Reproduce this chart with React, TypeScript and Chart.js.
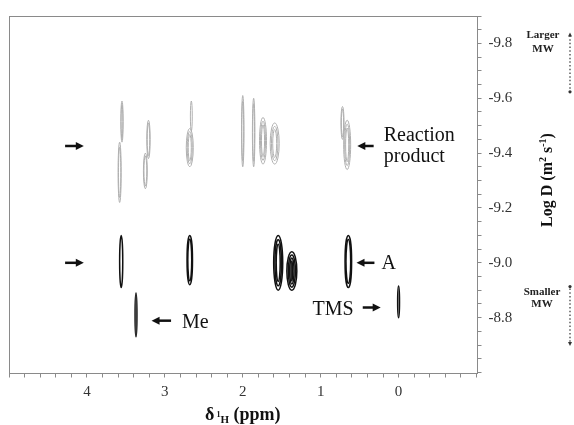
import { useEffect, useRef } from 'react';
import { Chart, registerables } from 'chart.js';

Chart.register(...registerables);

// ---- Data (ppm = chemical shift, logD = log diffusion coefficient) ----
// Reaction product peaks (grey contours)
const productPpm = [3.55, 3.58, 3.21, 3.25, 2.68, 2.66, 2.0, 1.86, 1.74, 1.59, 0.72, 0.66];
const productTop = [-9.59, -9.44, -9.52, -9.4, -9.49, -9.59, -9.61, -9.6, -9.53, -9.51, -9.57, -9.52];
const productBottom = [-9.44, -9.22, -9.38, -9.27, -9.35, -9.48, -9.35, -9.35, -9.36, -9.36, -9.45, -9.34];
const productHalfWidth = [0.015, 0.02, 0.022, 0.025, 0.045, 0.012, 0.016, 0.016, 0.045, 0.058, 0.02, 0.045];
const productLevels = [2, 2, 2, 2, 3, 1, 2, 2, 3, 3, 2, 3];

// Compound A peaks (black contours)
const aPpm = [3.56, 2.68, 1.545, 1.37, 0.645];
const aTop = [-9.1, -9.1, -9.1, -9.04, -9.1];
const aBottom = [-8.91, -8.92, -8.9, -8.9, -8.91];
const aHalfWidth = [0.02, 0.035, 0.058, 0.064, 0.042];
const aLevels = [1, 2, 3, 4, 2];

// Me peak
const mePpm = [3.37];
const meTop = [-8.89];
const meBottom = [-8.73];
const meHalfWidth = [0.012];
const meLevels = [1];

// TMS peak
const tmsPpm = [0.0];
const tmsTop = [-8.915];
const tmsBottom = [-8.8];
const tmsHalfWidth = [0.012];
const tmsLevels = [1];

// Axis ranges / tick labels
const xMin = -1;
const xMax = 5;
const xStep = 0.2;
const xLabels = [4, 3, 2, 1, 0];
const yMin = -9.9;
const yMax = -8.6;
const yStep = 0.05;
const yLabels = [-9.8, -9.6, -9.4, -9.2, -9.0, -8.8];

// Annotation arrows: tail ppm, head ppm, logD
const arrowTail = [4.28, 4.28, 0.32, 0.31, 0.46, 2.92];
const arrowHead = [4.04, 4.04, 0.53, 0.54, 0.23, 3.17];
const arrowLogD = [-9.426, -9.0, -9.426, -9.0, -8.837, -8.789];

// Annotation texts: text, ppm anchor, logD baseline, align
const noteText = ['Reaction', 'product', 'A', 'TMS', 'Me'];
const notePpm = [0.19, 0.19, 0.22, 0.577, 2.78];
const noteLogD = [-9.445, -9.368, -8.976, -8.811, -8.763];
const noteAlign = ['left', 'left', 'left', 'right', 'left'];

const SERIF = '"Liberation Serif", "Times New Roman", serif';

function build(ppm: number[], top: number[], bottom: number[], hw: number[], lv: number[]) {
  return ppm.map((p, i) => ({ x: p, y: (top[i] + bottom[i]) / 2, top: top[i], bottom: bottom[i], hw: hw[i], levels: lv[i] }));
}

function near(v: number, list: number[]) {
  return list.some((t) => Math.abs(v - t) < 1e-6);
}

const drawPlugin = {
  id: 'dosyDraw',
  afterDatasetsDraw(chart: any) {
    const ctx = chart.ctx as CanvasRenderingContext2D;
    const xs = chart.scales.x;
    const ys = chart.scales.y;
    const area = chart.chartArea;
    ctx.save();
    // box
    ctx.strokeStyle = '#8a8a8a';
    ctx.lineWidth = 1;
    ctx.strokeRect(Math.round(area.left) + 0.5, Math.round(area.top) + 0.5, Math.round(area.right - area.left), Math.round(area.bottom - area.top));

    // contour peaks
    chart.data.datasets.forEach((ds: any, di: number) => {
      ctx.strokeStyle = ds.borderColor;
      ctx.lineWidth = ds.borderWidth;
      (ds.data as any[]).forEach((d) => {
        const cx = xs.getPixelForValue(d.x);
        const rx = Math.abs(xs.getPixelForValue(d.x + d.hw) - cx);
        const yt = ys.getPixelForValue(d.top);
        const yb = ys.getPixelForValue(d.bottom);
        const cy = (yt + yb) / 2;
        const ry = Math.abs(yb - yt) / 2;
        for (let k = 0; k < d.levels; k++) {
          const sx = Math.max(rx * (1 - k * 0.28), 0.6);
          const sy = ry * (1 - k * 0.16);
          ctx.beginPath();
          ctx.ellipse(cx, cy, sx, sy, 0, 0, Math.PI * 2);
          ctx.stroke();
        }
      });
    });

    // arrows
    ctx.fillStyle = '#111';
    ctx.strokeStyle = '#111';
    arrowTail.forEach((t, i) => {
      const x1 = xs.getPixelForValue(t);
      const x2 = xs.getPixelForValue(arrowHead[i]);
      const y = ys.getPixelForValue(arrowLogD[i]);
      const dir = Math.sign(x2 - x1);
      ctx.lineWidth = 2.5;
      ctx.beginPath();
      ctx.moveTo(x1, y);
      ctx.lineTo(x2 - dir * 6, y);
      ctx.stroke();
      ctx.beginPath();
      ctx.moveTo(x2, y);
      ctx.lineTo(x2 - dir * 8, y - 4);
      ctx.lineTo(x2 - dir * 8, y + 4);
      ctx.closePath();
      ctx.fill();
    });

    // notes
    ctx.font = `20px ${SERIF}`;
    ctx.textBaseline = 'alphabetic';
    noteText.forEach((t, i) => {
      ctx.textAlign = noteAlign[i] as CanvasTextAlign;
      ctx.fillText(t, xs.getPixelForValue(notePpm[i]), ys.getPixelForValue(noteLogD[i]));
    });

    // x title: δ 1H (ppm)
    const xParts = [
      { t: 'δ', s: 18, dy: 0 },
      { t: ' ', s: 8, dy: 0 },
      { t: '1', s: 8, dy: -3 },
      { t: 'H', s: 11, dy: 3 },
      { t: ' (ppm)', s: 18, dy: 0 },
    ];
    ctx.textAlign = 'left';
    let total = 0;
    xParts.forEach((p) => {
      ctx.font = `bold ${p.s}px ${SERIF}`;
      total += ctx.measureText(p.t).width;
    });
    let cx = (area.left + area.right) / 2 - total / 2;
    const base = 420;
    xParts.forEach((p) => {
      ctx.font = `bold ${p.s}px ${SERIF}`;
      ctx.fillText(p.t, cx, base + p.dy);
      cx += ctx.measureText(p.t).width;
    });

    // y title: Log D (m2 s-1)
    const yParts = [
      { t: 'Log D (m', s: 16, dy: 0 },
      { t: '2', s: 10, dy: -6 },
      { t: ' s', s: 16, dy: 0 },
      { t: '-1', s: 10, dy: -6 },
      { t: ')', s: 16, dy: 0 },
    ];
    ctx.save();
    ctx.translate(552, 180);
    ctx.rotate(-Math.PI / 2);
    total = 0;
    yParts.forEach((p) => {
      ctx.font = `bold ${p.s}px ${SERIF}`;
      total += ctx.measureText(p.t).width;
    });
    let tx = -total / 2;
    yParts.forEach((p) => {
      ctx.font = `bold ${p.s}px ${SERIF}`;
      ctx.fillText(p.t, tx, p.dy);
      tx += ctx.measureText(p.t).width;
    });
    ctx.restore();

    // Larger / Smaller MW
    ctx.fillStyle = '#222';
    ctx.font = `bold 11px ${SERIF}`;
    ctx.textAlign = 'center';
    ctx.textBaseline = 'middle';
    ctx.fillText('Larger', 543, ys.getPixelForValue(-9.83));
    ctx.fillText('MW', 543, ys.getPixelForValue(-9.78));
    ctx.fillText('Smaller', 542, ys.getPixelForValue(-8.892));
    ctx.fillText('MW', 542, ys.getPixelForValue(-8.848));

    const dotted = (yA: number, yB: number, headTop: boolean) => {
      const x = 570;
      const pa = ys.getPixelForValue(yA);
      const pb = ys.getPixelForValue(yB);
      ctx.strokeStyle = '#333';
      ctx.lineWidth = 1.2;
      ctx.setLineDash([1.5, 2.2]);
      ctx.beginPath();
      ctx.moveTo(x, pa + 3);
      ctx.lineTo(x, pb - 3);
      ctx.stroke();
      ctx.setLineDash([]);
      ctx.fillStyle = '#333';
      const head = (y: number, up: boolean) => {
        ctx.beginPath();
        ctx.moveTo(x, y);
        ctx.lineTo(x - 2, y + (up ? 4 : -4));
        ctx.lineTo(x + 2, y + (up ? 4 : -4));
        ctx.closePath();
        ctx.fill();
      };
      const dot = (y: number) => {
        ctx.beginPath();
        ctx.arc(x, y, 1.6, 0, Math.PI * 2);
        ctx.fill();
      };
      if (headTop) {
        head(pa, true);
        dot(pb - 1);
      } else {
        dot(pa + 1);
        head(pb, false);
      }
    };
    dotted(-9.84, -9.62, true);
    dotted(-8.917, -8.697, false);

    ctx.restore();
  },
};

export default function App() {
  const ref = useRef<HTMLCanvasElement>(null);
  useEffect(() => {
    const canvas = ref.current;
    if (!canvas) return;
    const chart = new Chart(canvas, {
      type: 'scatter',
      data: {
        datasets: [
          { label: 'Reaction product', data: build(productPpm, productTop, productBottom, productHalfWidth, productLevels), pointRadius: 0, borderColor: '#b0b0b0', borderWidth: 1 },
          { label: 'A', data: build(aPpm, aTop, aBottom, aHalfWidth, aLevels), pointRadius: 0, borderColor: '#111111', borderWidth: 1.5 },
          { label: 'Me', data: build(mePpm, meTop, meBottom, meHalfWidth, meLevels), pointRadius: 0, borderColor: '#111111', borderWidth: 1.5 },
          { label: 'TMS', data: build(tmsPpm, tmsTop, tmsBottom, tmsHalfWidth, tmsLevels), pointRadius: 0, borderColor: '#111111', borderWidth: 1.5 },
        ] as any,
      },
      options: {
        animation: false,
        responsive: false,
        layout: { padding: { left: 9, top: 16, right: 0, bottom: 0 } },
        plugins: { legend: { display: false }, tooltip: { enabled: false } },
        scales: {
          x: {
            type: 'linear',
            min: xMin,
            max: xMax,
            reverse: true,
            position: 'bottom',
            ticks: {
              stepSize: xStep,
              autoSkip: false,
              maxRotation: 0,
              padding: 6,
              color: '#333',
              font: { family: SERIF, size: 15 },
              callback: (v: any) => (near(Number(v), xLabels) ? String(Math.round(Number(v))) : ''),
            },
            grid: { drawOnChartArea: false, drawTicks: true, tickLength: 5, color: '#8a8a8a', tickColor: '#8a8a8a' },
            border: { display: false },
            afterFit: (s: any) => { s.height = 52.5; },
          },
          y: {
            type: 'linear',
            min: yMin,
            max: yMax,
            reverse: true,
            position: 'right',
            ticks: {
              stepSize: yStep,
              autoSkip: false,
              padding: 7,
              color: '#333',
              font: { family: SERIF, size: 15 },
              callback: (v: any) => (near(Number(v), yLabels) ? Number(v).toFixed(1) : ''),
            },
            grid: { drawOnChartArea: false, drawTicks: true, tickLength: 5, color: '#8a8a8a', tickColor: '#8a8a8a' },
            border: { display: false },
            afterFit: (s: any) => { s.width = 97.5; },
          },
        },
      } as any,
      plugins: [drawPlugin],
    });
    return () => chart.destroy();
  }, []);
  return (
    <div style={{ position: 'fixed', left: 0, top: 0, width: 574, height: 425, background: '#fff' }}>
      <canvas ref={ref} width={574} height={425} />
    </div>
  );
}
